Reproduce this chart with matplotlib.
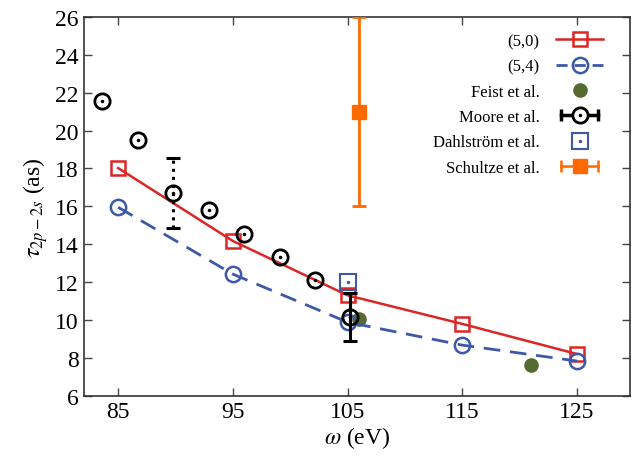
import matplotlib
matplotlib.use("Agg")
import matplotlib.pyplot as plt
from matplotlib.lines import Line2D
from matplotlib.legend_handler import HandlerLine2D, HandlerTuple

plt.rcParams["font.family"] = ["Liberation Serif", "DejaVu Serif"]
plt.rcParams["mathtext.fontset"] = "stix"

# (5,0) and (5,4) calculations
omega_calc = [85, 95, 105, 115, 125]
tau_50 = [18.02, 14.17, 11.3, 9.79, 8.2]
tau_54 = [15.95, 12.42, 9.88, 8.67, 7.83]

# Feist et al.
omega_feist = [105.95, 121.0]
tau_feist = [10.05, 7.62]

# Moore et al.
omega_moore = [83.6, 86.7, 92.95, 96.0, 99.1, 102.2]
tau_moore = [21.56, 19.5, 15.8, 14.54, 13.32, 12.1]
omega_moore_err = [89.8, 105.25]
tau_moore_err = [16.7, 10.17]
err_moore = [1.85, 1.27]

# Dahlstrom et al.
omega_dahl = [105.0]
tau_dahl = [12.0]

# Schultze et al.
omega_schultze = [106.0]
tau_schultze = [21.0]
err_schultze = [5.0]

red = "#dc2626"
blue = "#3d58a8"
green = "#556b2f"
orange = "#ff6a00"

fig = plt.figure(figsize=(6.41, 4.60), dpi=100)
ax = fig.add_axes([0.1306, 0.1376, 0.852, 0.8234])

ax.plot(omega_calc, tau_50, color=red, lw=1.8, marker="s", ms=10,
        mfc="none", mec=red, mew=1.8, zorder=3)
ax.plot(omega_calc, tau_54, color=blue, lw=2.0, ls=(0, (6, 3.5)), marker="o",
        ms=11, mfc="none", mec=blue, mew=1.8, zorder=3)

ax.plot(omega_feist, tau_feist, ls="none", marker="o", ms=9.5, color=green,
        zorder=2)

# Moore: circles with a dot, two of them with error bars
moore_styles = [":", "-"]
for x, y, e, st in zip(omega_moore_err, tau_moore_err, err_moore, moore_styles):
    eb = ax.errorbar([x], [y], yerr=[e], fmt="none", ecolor="k", elinewidth=2.2,
                     capsize=5, capthick=2.2, zorder=4)
    eb[2][0].set_linestyle(st)
ax.plot(omega_moore + omega_moore_err, tau_moore + tau_moore_err, ls="none",
        marker="o", ms=11, mfc="none", mec="k", mew=2.0, zorder=5)
ax.plot(omega_moore + omega_moore_err, tau_moore + tau_moore_err, ls="none",
        marker=".", ms=3, color="k", zorder=5)

ax.plot(omega_dahl, tau_dahl, ls="none", marker="s", ms=11, mfc="none",
        mec=blue, mew=1.5, zorder=4)
ax.plot(omega_dahl, tau_dahl, ls="none", marker=".", ms=3, color=blue, zorder=4)

ax.errorbar(omega_schultze, tau_schultze, yerr=err_schultze, fmt="s", ms=10.5,
            color=orange, ecolor=orange, elinewidth=2, capsize=5, capthick=2,
            zorder=4)

ax.set_xlim(82, 129.6)
ax.set_ylim(6, 26)
ax.set_xticks([85, 95, 105, 115, 125])
ax.set_yticks(range(6, 27, 2))
ax.tick_params(direction="in", top=True, right=True, labelsize=17, length=6,
               width=1, color="#444444")
for s in ax.spines.values():
    s.set_color("#333333")
    s.set_linewidth(1.2)
ax.set_xlabel(r"$\omega$ (eV)", fontsize=17, labelpad=2)
ax.set_ylabel(r"$\tau_{2p-2s}$ (as)", fontsize=17, labelpad=4)

# legend handles, gnuplot style
h50 = Line2D([], [], color=red, lw=1.8, marker="s", ms=10, mfc="none",
             mec=red, mew=1.8)
h54 = Line2D([], [], color=blue, lw=2.0, ls=(0, (4, 2.5)), marker="o", ms=11,
             mfc="none", mec=blue, mew=1.8)
hfeist = Line2D([], [], ls="none", marker="o", ms=9.5, color=green)
moore_bar = Line2D([], [], color="k", lw=2.5, marker="|", ms=9, mew=2.5)
moore_c = Line2D([], [], ls="none", marker="o", ms=11, mfc="white", mec="k",
                 mew=2.0)
moore_d = Line2D([], [], ls="none", marker=".", ms=3, color="k")
dahl_s = Line2D([], [], ls="none", marker="s", ms=11, mfc="none", mec=blue,
                mew=1.5)
dahl_d = Line2D([], [], ls="none", marker=".", ms=3, color=blue)
sch_bar = Line2D([], [], color=orange, lw=1.8, marker="|", ms=9, mew=1.8)
sch_s = Line2D([], [], ls="none", marker="s", ms=10.5, color=orange)

two = HandlerLine2D(numpoints=2)
handles = [h50, h54, hfeist, (moore_bar, moore_c, moore_d),
           (dahl_s, dahl_d), (sch_bar, sch_s)]
labels = ["(5,0)", "(5,4)", "Feist et al.", "Moore et al.",
          "Dahlström et al.", "Schultze et al."]
ax.legend(handles, labels, loc="upper right", bbox_to_anchor=(0.963, 0.975),
          frameon=False, markerfirst=False, fontsize=12, handlelength=2.8,
          handletextpad=1.0, labelspacing=0.56, borderaxespad=0,
          handler_map={moore_bar: two, sch_bar: two,
                       tuple: HandlerTuple(ndivide=1, pad=0)})

fig.savefig("out.png", dpi=100)
